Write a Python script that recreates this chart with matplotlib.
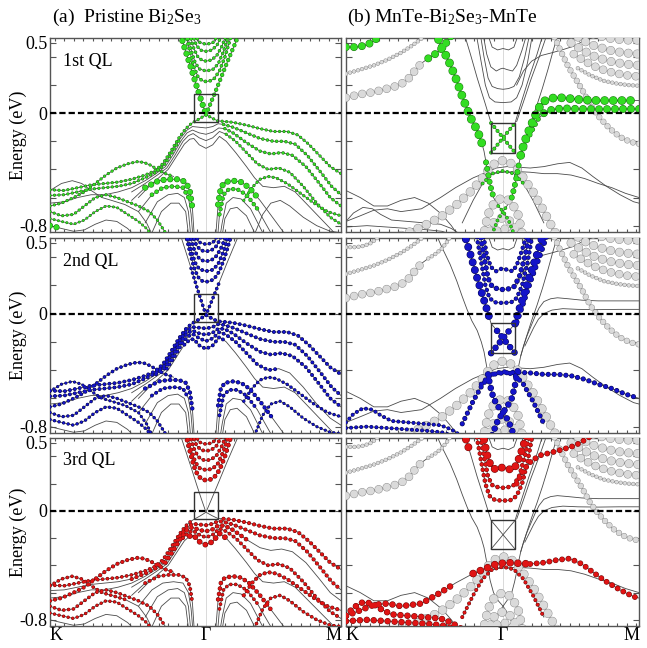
import matplotlib.pyplot as plt
from matplotlib.patches import Rectangle
from matplotlib.ticker import MultipleLocator

plt.rcParams['font.family'] = 'serif'
plt.rcParams['font.serif'] = ['Liberation Serif']
plt.rcParams['mathtext.fontset'] = 'custom'
plt.rcParams['mathtext.rm'] = 'Liberation Serif'
plt.rcParams['mathtext.it'] = 'Liberation Serif:italic'
plt.rcParams['lines.scale_dashes'] = False

# k-path: K -> Gamma -> M (|GK| / |GM| = 2/sqrt(3))
K_PT, M_PT = -1.1547, 1.0
YMIN, YMAX = -0.845, 0.535

# ---------------- (a) pristine Bi2Se3 : bands (k, E) ----------------
L_C0 = [(-0.19, 0.56), (-0.15, 0.44), (-0.11, 0.32), (-0.07, 0.195), (-0.035, 0.09), (0.0, -0.01),
        (0.03, 0.06), (0.06, 0.13), (0.10, 0.225), (0.15, 0.345), (0.20, 0.46), (0.245, 0.56)]
L_C1 = [(-0.15, 0.56), (-0.12, 0.44), (-0.09, 0.33), (-0.06, 0.26), (-0.03, 0.232), (0.0, 0.225),
        (0.03, 0.23), (0.06, 0.245), (0.10, 0.30), (0.14, 0.40), (0.19, 0.56)]
L_C2 = [(-0.14, 0.56), (-0.11, 0.45), (-0.08, 0.36), (-0.05, 0.315), (0.0, 0.30), (0.05, 0.31),
        (0.09, 0.35), (0.13, 0.44), (0.17, 0.56)]
L_C3 = [(-0.12, 0.56), (-0.09, 0.46), (-0.06, 0.40), (-0.03, 0.377), (0.0, 0.37), (0.04, 0.378),
        (0.08, 0.41), (0.12, 0.48), (0.15, 0.56)]
L_C4 = [(-0.10, 0.56), (-0.07, 0.48), (-0.035, 0.447), (0.0, 0.44), (0.04, 0.448), (0.08, 0.48),
        (0.12, 0.56)]
L_C5 = [(-0.08, 0.56), (-0.05, 0.505), (0.0, 0.49), (0.05, 0.50), (0.09, 0.56)]
L_V0 = [(-1.155, -0.545), (-1.05, -0.55), (-0.95, -0.53), (-0.85, -0.51), (-0.75, -0.50), (-0.65, -0.49),
        (-0.55, -0.47), (-0.45, -0.44), (-0.38, -0.41), (-0.32, -0.36), (-0.26, -0.27), (-0.20, -0.175),
        (-0.15, -0.11), (-0.11, -0.075), (-0.085, -0.06), (-0.04, -0.035), (0.0, -0.01), (0.045, -0.035),
        (0.087, -0.055), (0.13, -0.058), (0.20, -0.065), (0.30, -0.085), (0.40, -0.11), (0.50, -0.13),
        (0.60, -0.13), (0.68, -0.155), (0.76, -0.22), (0.84, -0.30), (0.92, -0.38), (1.0, -0.43)]
L_V1 = [(-1.155, -0.585), (-1.05, -0.58), (-0.95, -0.56), (-0.85, -0.54), (-0.75, -0.53), (-0.65, -0.52),
        (-0.55, -0.50), (-0.45, -0.46), (-0.37, -0.42), (-0.31, -0.37), (-0.25, -0.28), (-0.19, -0.18),
        (-0.14, -0.12), (-0.10, -0.095), (-0.05, -0.10), (0.0, -0.105), (0.05, -0.095), (0.09, -0.075),
        (0.13, -0.08), (0.20, -0.10), (0.30, -0.14), (0.40, -0.18), (0.50, -0.20), (0.58, -0.20),
        (0.66, -0.22), (0.75, -0.30), (0.85, -0.42), (0.93, -0.52), (1.0, -0.58)]
L_V2 = [(-1.155, -0.64), (-1.05, -0.63), (-0.95, -0.60), (-0.85, -0.58), (-0.75, -0.58), (-0.65, -0.56),
        (-0.55, -0.53), (-0.45, -0.48), (-0.37, -0.43), (-0.30, -0.38), (-0.24, -0.29), (-0.18, -0.19),
        (-0.14, -0.14), (-0.10, -0.12), (-0.05, -0.14), (0.0, -0.15), (0.05, -0.135), (0.095, -0.105),
        (0.14, -0.11), (0.20, -0.14), (0.30, -0.21), (0.40, -0.27), (0.48, -0.29), (0.56, -0.28),
        (0.64, -0.30), (0.74, -0.38), (0.84, -0.50), (0.92, -0.60), (1.0, -0.66)]
L_V3 = [(-0.55, -0.56), (-0.45, -0.50), (-0.36, -0.44), (-0.29, -0.39), (-0.23, -0.30), (-0.17, -0.20),
        (-0.13, -0.16), (-0.095, -0.145), (-0.05, -0.175), (0.0, -0.195), (0.05, -0.175), (0.10, -0.13),
        (0.15, -0.15), (0.22, -0.20), (0.30, -0.28), (0.38, -0.36), (0.46, -0.40), (0.54, -0.39),
        (0.62, -0.42), (0.72, -0.52), (0.82, -0.64), (0.92, -0.74), (1.0, -0.79)]
L_V4 = [(-0.50, -0.60), (-0.42, -0.52), (-0.35, -0.46), (-0.28, -0.40), (-0.22, -0.31), (-0.16, -0.22),
        (-0.12, -0.185), (-0.09, -0.18), (-0.05, -0.225), (0.0, -0.25), (0.05, -0.225), (0.10, -0.165),
        (0.15, -0.20), (0.22, -0.28), (0.30, -0.38), (0.36, -0.46), (0.42, -0.52), (0.50, -0.53),
        (0.58, -0.52), (0.66, -0.56), (0.76, -0.66), (0.86, -0.76), (0.95, -0.85)]
L_K1 = [(-1.155, -0.66), (-1.07, -0.64), (-0.98, -0.60), (-0.90, -0.56), (-0.82, -0.50), (-0.74, -0.44),
        (-0.66, -0.39), (-0.58, -0.36), (-0.51, -0.345), (-0.46, -0.35), (-0.41, -0.37), (-0.36, -0.40),
        (-0.30, -0.43), (-0.24, -0.45)]
L_K2 = [(-1.155, -0.70), (-1.07, -0.73), (-0.98, -0.72), (-0.90, -0.66), (-0.82, -0.60), (-0.74, -0.58),
        (-0.66, -0.60), (-0.58, -0.63), (-0.50, -0.66), (-0.42, -0.70), (-0.36, -0.76), (-0.30, -0.85)]
L_K3 = [(-1.155, -0.75), (-1.07, -0.77), (-0.98, -0.79), (-0.90, -0.76), (-0.82, -0.70), (-0.74, -0.66),
        (-0.66, -0.67), (-0.58, -0.72), (-0.50, -0.77), (-0.44, -0.82), (-0.40, -0.87)]
L_K4 = [(-1.155, -0.80), (-1.07, -0.82), (-0.98, -0.84), (-0.90, -0.83), (-0.82, -0.79), (-0.74, -0.76),
        (-0.66, -0.77), (-0.58, -0.82), (-0.54, -0.86)]
L_K5 = [(-1.155, -0.55), (-1.07, -0.50), (-0.99, -0.48), (-0.92, -0.50), (-0.85, -0.55), (-0.77, -0.60),
        (-0.70, -0.62), (-0.60, -0.65), (-0.50, -0.70), (-0.44, -0.78), (-0.40, -0.86)]
L_AL1 = [(-0.55, -0.62), (-0.45, -0.53), (-0.35, -0.48), (-0.28, -0.47), (-0.20, -0.47), (-0.15, -0.49),
         (-0.12, -0.55), (-0.10, -0.68), (-0.085, -0.90)]
L_AL2 = [(-0.50, -0.70), (-0.40, -0.58), (-0.32, -0.53), (-0.24, -0.52), (-0.17, -0.53), (-0.13, -0.60),
         (-0.11, -0.72), (-0.095, -0.90)]
L_AL3 = [(-0.45, -0.78), (-0.36, -0.63), (-0.28, -0.58), (-0.21, -0.57), (-0.16, -0.60), (-0.13, -0.70),
         (-0.11, -0.90)]
L_AL4 = [(-0.40, -0.85), (-0.33, -0.70), (-0.26, -0.64), (-0.20, -0.64), (-0.15, -0.70), (-0.125, -0.90)]
L_AR1 = [(0.07, -0.90), (0.09, -0.65), (0.11, -0.53), (0.14, -0.49), (0.20, -0.48), (0.26, -0.49),
         (0.32, -0.53), (0.40, -0.62), (0.50, -0.75), (0.60, -0.88)]
L_AR2 = [(0.085, -0.90), (0.10, -0.72), (0.13, -0.58), (0.17, -0.54), (0.23, -0.54), (0.30, -0.58),
         (0.38, -0.68), (0.48, -0.85)]
L_AR3 = [(0.10, -0.90), (0.12, -0.78), (0.15, -0.64), (0.20, -0.60), (0.26, -0.61), (0.33, -0.68),
         (0.42, -0.85)]
L_AR4 = [(0.115, -0.90), (0.14, -0.75), (0.18, -0.68), (0.23, -0.67), (0.30, -0.73), (0.36, -0.85)]
L_M5 = [(0.28, -0.62), (0.34, -0.53), (0.40, -0.47), (0.46, -0.45), (0.52, -0.46), (0.60, -0.50),
        (0.70, -0.57), (0.80, -0.64), (0.90, -0.70), (1.0, -0.73)]
L_M6 = [(0.36, -0.86), (0.42, -0.72), (0.48, -0.64), (0.55, -0.62), (0.62, -0.66), (0.72, -0.74),
        (0.82, -0.80), (0.92, -0.84), (1.0, -0.85)]

# projected weights per quintuple layer: (band, k_from, k_to, dot size)
HL_L1 = [('C0', -0.3, 0.0, 4.6), ('C0', 0.0, 0.3, 3.0), ('C1', -1, 1, 2.4), ('C2', -1, 1, 2.2),
         ('C3', -1, 1, 2.2), ('C4', -1, 1, 2.2), ('C5', -1, 1, 2.2), ('V0', -1.2, 1.1, 2.0),
         ('V1', -1.2, -0.15, 2.0), ('V1', 0.13, 1.1, 2.2), ('V2', 0.14, 1.1, 2.2), ('V3', 0.15, 1.1, 2.0),
         ('K1', -1.2, 0, 2.0), ('K2', -1.2, 0, 2.0), ('K3', -1.2, 0, 1.8), ('AL1', -0.45, -0.1, 4.6),
         ('AL2', -0.4, -0.12, 3.2), ('AR1', 0.09, 0.4, 4.6), ('AR2', 0.1, 0.38, 3.0),
         ('K4', -1.2, -1.0, 4.6), ('M5', 0, 1.1, 2.0)]
HL_L2 = [('C0', -0.12, 0.12, 2.4), ('C1', -1, 1, 2.6), ('C2', -1, 1, 2.6), ('C3', -1, 1, 2.6),
         ('C4', -1, 1, 2.6), ('C5', -1, 1, 2.4), ('V0', -1.2, 1.1, 2.6), ('V1', -1.2, 1.1, 2.6),
         ('V2', -0.4, 1.1, 2.6), ('V3', -0.3, 0.6, 2.6), ('V4', -0.2, 0.2, 2.6), ('K1', -1.2, 0, 2.4),
         ('K2', -1.2, 0, 2.2), ('K3', -1.2, 0, 2.2), ('K5', -1.2, 0, 2.0), ('AL1', -0.5, -0.1, 3.0),
         ('AL2', -0.4, -0.12, 2.6), ('AR1', 0.09, 0.5, 3.0), ('AR2', 0.1, 0.45, 2.6), ('M5', 0, 1.1, 2.2),
         ('M6', 0, 1.1, 2.0)]
HL_L3 = [('C1', -1, 1, 3.4), ('C2', -1, 1, 2.8), ('C3', -1, 1, 2.6), ('C4', -1, 1, 2.6),
         ('C5', -1, 1, 2.4), ('V0', -1.2, -0.1, 2.4), ('V0', 0.09, 1.1, 2.8), ('V1', -0.6, 1.1, 2.8),
         ('V2', -0.3, 0.3, 3.2), ('V3', -0.2, 1.1, 2.6), ('V4', -0.15, 0.15, 4.2), ('K1', -1.2, 0, 2.8),
         ('K2', -1.2, 0, 2.4), ('K3', -1.2, 0, 2.2), ('K5', -1.2, -0.6, 2.4), ('AL1', -0.5, -0.1, 2.6),
         ('AR1', 0.09, 0.5, 3.2), ('AR2', 0.1, 0.45, 2.4), ('M5', 0, 1.1, 2.8), ('M6', 0, 1.1, 2.4)]

# ---------------- (b) MnTe-Bi2Se3-MnTe : bands (k, E) ----------------
R_U1 = [(-0.50, 0.58), (-0.45, 0.47), (-0.39, 0.35), (-0.34, 0.23), (-0.30, 0.12), (-0.265, 0.03),
        (-0.23, -0.05), (-0.19, -0.12), (-0.16, -0.20), (-0.14, -0.27), (-0.125, -0.35), (-0.11, -0.43),
        (-0.095, -0.51), (-0.07, -0.60), (-0.035, -0.66), (0.0, -0.70), (0.04, -0.76), (0.08, -0.86)]
R_U2 = [(-0.08, -0.86), (-0.04, -0.76), (0.0, -0.70), (0.035, -0.65), (0.064, -0.60), (0.085, -0.52),
        (0.10, -0.45), (0.115, -0.37), (0.13, -0.30), (0.15, -0.23), (0.175, -0.16), (0.205, -0.09),
        (0.235, -0.02), (0.265, 0.04), (0.30, 0.085), (0.35, 0.105), (0.40, 0.112), (0.48, 0.105),
        (0.58, 0.095), (0.70, 0.09), (0.85, 0.09), (1.0, 0.09)]
R_U3 = [(0.16, -0.23), (0.19, -0.17), (0.225, -0.10), (0.26, -0.04), (0.30, 0.0), (0.36, 0.025),
        (0.44, 0.035), (0.55, 0.03), (0.70, 0.028), (0.85, 0.03), (1.0, 0.03)]
R_U4 = [(0.13, -0.30), (0.17, -0.17), (0.21, -0.05), (0.25, 0.06), (0.29, 0.18), (0.33, 0.31),
        (0.37, 0.45), (0.41, 0.58)]
R_V1 = [(-0.29, 0.58), (-0.24, 0.42), (-0.19, 0.25), (-0.135, 0.08), (-0.088, -0.07), (-0.044, -0.122),
        (0.0, -0.175), (0.044, -0.228), (0.088, -0.28)]
R_V2 = [(-0.088, -0.28), (-0.044, -0.228), (0.0, -0.175), (0.044, -0.122), (0.088, -0.07), (0.135, 0.08),
        (0.19, 0.25), (0.25, 0.42), (0.30, 0.58)]
R_V3 = [(0.10, -0.06), (0.15, 0.08), (0.205, 0.24), (0.27, 0.41), (0.33, 0.58)]
R_C1 = [(-0.20, 0.58), (-0.16, 0.36), (-0.13, 0.20), (-0.10, 0.11), (-0.06, 0.08), (0.0, 0.075),
        (0.06, 0.08), (0.10, 0.11), (0.14, 0.20), (0.18, 0.36), (0.22, 0.58)]
R_C2 = [(-0.17, 0.58), (-0.14, 0.40), (-0.11, 0.25), (-0.08, 0.19), (-0.04, 0.175), (0.0, 0.17),
        (0.04, 0.175), (0.08, 0.19), (0.12, 0.26), (0.16, 0.40), (0.20, 0.58)]
R_C3 = [(-0.15, 0.58), (-0.12, 0.42), (-0.09, 0.33), (-0.05, 0.30), (-0.02, 0.315), (0.0, 0.32),
        (0.03, 0.31), (0.07, 0.30), (0.10, 0.34), (0.14, 0.45), (0.18, 0.58)]
R_C4 = [(-0.12, 0.58), (-0.08, 0.47), (-0.04, 0.45), (0.0, 0.46), (0.04, 0.45), (0.08, 0.47), (0.12, 0.58)]
R_R1 = [(0.10, 0.20), (0.15, 0.30), (0.21, 0.37), (0.28, 0.41), (0.36, 0.43), (0.45, 0.455), (0.53, 0.48),
        (0.60, 0.52), (0.66, 0.56)]
R_G1 = [(-1.155, 0.11), (-1.05, 0.135), (-0.95, 0.15), (-0.85, 0.175), (-0.76, 0.20), (-0.70, 0.24),
        (-0.65, 0.30), (-0.60, 0.355), (-0.55, 0.39), (-0.50, 0.42), (-0.45, 0.46), (-0.41, 0.51), (-0.37, 0.57)]
R_G2 = [(-1.155, 0.28), (-1.05, 0.31), (-0.95, 0.34), (-0.85, 0.38), (-0.75, 0.43), (-0.67, 0.48),
        (-0.60, 0.53), (-0.55, 0.57)]
R_GT = [(-1.155, 0.47), (-1.08, 0.47), (-1.02, 0.48), (-0.97, 0.50), (-0.93, 0.53), (-0.90, 0.57)]
R_GM1 = [(0.36, 0.58), (0.42, 0.45), (0.48, 0.33), (0.53, 0.25), (0.58, 0.17), (0.64, 0.06), (0.70, -0.02),
         (0.76, -0.085), (0.82, -0.14), (0.88, -0.18), (0.94, -0.205), (1.0, -0.218)]
R_GM2 = [(0.60, 0.58), (0.70, 0.55), (0.80, 0.53), (0.90, 0.52), (1.0, 0.52)]
R_GM3 = [(0.50, 0.58), (0.58, 0.52), (0.67, 0.48), (0.77, 0.45), (0.88, 0.43), (1.0, 0.42)]
R_GM4 = [(0.50, 0.50), (0.58, 0.45), (0.68, 0.40), (0.78, 0.37), (0.89, 0.35), (1.0, 0.34)]
R_GM5 = [(0.52, 0.42), (0.60, 0.37), (0.70, 0.32), (0.80, 0.29), (0.90, 0.27), (1.0, 0.26)]
R_GM6 = [(0.55, 0.32), (0.64, 0.27), (0.74, 0.23), (0.84, 0.21), (0.92, 0.20), (1.0, 0.195)]
R_GA = [(-0.75, -0.87), (-0.60, -0.81), (-0.46, -0.74), (-0.34, -0.65), (-0.23, -0.55), (-0.15, -0.46),
        (-0.09, -0.38), (-0.04, -0.345), (0.0, -0.337), (0.04, -0.345), (0.09, -0.38), (0.15, -0.46),
        (0.22, -0.56), (0.29, -0.68), (0.35, -0.79), (0.40, -0.88)]
R_GB1 = [(-0.15, -0.90), (-0.11, -0.72), (-0.06, -0.63), (0.0, -0.60), (0.06, -0.63), (0.11, -0.72), (0.15, -0.90)]
R_GB2 = [(-0.12, -0.90), (-0.07, -0.78), (0.0, -0.74), (0.07, -0.78), (0.12, -0.90)]
R_GB3 = [(-0.09, -0.88), (-0.04, -0.83), (0.0, -0.82), (0.04, -0.83), (0.09, -0.88)]
R_A1 = [(-0.16, -0.50), (-0.10, -0.44), (-0.05, -0.425), (0.0, -0.42), (0.10, -0.415), (0.20, -0.42),
        (0.30, -0.43), (0.40, -0.43), (0.50, -0.44), (0.60, -0.465), (0.70, -0.50), (0.80, -0.53),
        (0.90, -0.57), (1.0, -0.60)]
R_A2 = [(-1.155, -0.77), (-1.05, -0.73), (-0.95, -0.69), (-0.85, -0.68), (-0.75, -0.70), (-0.60, -0.68),
        (-0.46, -0.60), (-0.35, -0.53), (-0.22, -0.46), (-0.12, -0.42), (-0.05, -0.39), (0.03, -0.38),
        (0.12, -0.385), (0.20, -0.39), (0.30, -0.38), (0.40, -0.36), (0.49, -0.35), (0.58, -0.39),
        (0.66, -0.45), (0.76, -0.52), (0.86, -0.58), (0.96, -0.63), (1.0, -0.64)]
R_A3 = [(-1.155, -0.77), (-1.10, -0.71), (-1.03, -0.67), (-0.96, -0.68), (-0.90, -0.72), (-0.82, -0.76),
        (-0.70, -0.77), (-0.58, -0.78), (-0.46, -0.79), (-0.38, -0.82), (-0.30, -0.87)]
R_A4 = [(-1.155, -0.81), (-1.0, -0.80), (-0.85, -0.81), (-0.70, -0.82), (-0.55, -0.83), (-0.45, -0.84),
        (-0.35, -0.87)]
R_T1 = [(-1.155, -0.55), (-1.05, -0.60), (-0.95, -0.66), (-0.85, -0.66), (-0.75, -0.62), (-0.65, -0.60),
        (-0.55, -0.64), (-0.45, -0.72), (-0.38, -0.80), (-0.33, -0.87)]
R_T2 = [(-0.30, -0.78), (-0.22, -0.62), (-0.15, -0.50), (-0.08, -0.43), (0.0, -0.41), (0.08, -0.43),
        (0.15, -0.50), (0.22, -0.62), (0.30, -0.78)]

HL_R_GRAY = [('G1', -1.2, -0.56, 5.4), ('G2', -1.2, 0, 2.4), ('GM1', 0, 1.1, 3.8), ('GM2', 0, 1.1, 5.8),
             ('GM3', 0, 1.1, 5.8), ('GM4', 0, 1.1, 5.8), ('GM5', 0, 1.1, 5.4), ('GM6', 0, 1.1, 2.4),
             ('GA', -1, 1, 6.0), ('GB1', -1, 1, 6.0), ('GB2', -1, 1, 6.0), ('GB3', -1, 1, 5.6)]
HL_R_GRAY_LOW = [('GT', -1.2, 0, 2.4), ('G1', -0.55, 0, 2.4)]
HL_R1 = [('GT', -1.2, 0, 5.0), ('G1', -0.55, 0, 5.0), ('U1', -0.6, -0.14, 5.6), ('U1', -0.13, -0.06, 3.6),
         ('U1', -0.04, 0.1, 2.0), ('U2', -0.1, 0.04, 2.0), ('U2', 0.05, 0.12, 3.6), ('U2', 0.13, 1.1, 5.6),
         ('U3', 0.15, 0.29, 3.0), ('U3', 0.3, 1.1, 5.0), ('V1', -0.09, 0.09, 2.2), ('V2', -0.09, 0.09, 2.2),
         ('T2', -0.2, 0.2, 2.0)]
HL_R2 = [('V1', -0.3, -0.08, 5.0), ('V1', -0.05, 0.09, 4.0), ('V2', -0.09, 0.05, 4.0), ('V2', 0.08, 0.31, 5.0),
         ('V3', 0, 0.4, 3.5), ('C1', -1, 1, 2.5), ('C2', -1, 1, 3.2), ('C3', -1, 1, 2.5), ('A1', -1, 1.1, 3.0),
         ('U1', -0.12, 0.1, 4.0), ('U2', -0.1, 0.12, 4.0), ('A3', -1.2, 0, 2.2), ('A4', -1.2, 0, 2.2),
         ('T2', -0.3, 0.3, 3.0)]
HL_R3 = [('C3', -1, 1, 5.0), ('C2', -1, 1, 2.6), ('C1', -1, 1, 2.6), ('V1', -0.3, -0.2, 5.0),
         ('R1', 0, 1, 3.5), ('A2', -1.2, -0.25, 4.0), ('A2', -0.24, 0.2, 4.8), ('A2', 0.2, 1.1, 3.5),
         ('A3', -1.2, 0, 4.0), ('A4', -1.2, 0, 4.0), ('T2', -0.3, 0.3, 2.2)]

LEFT = {'C0': L_C0, 'C1': L_C1, 'C2': L_C2, 'C3': L_C3, 'C4': L_C4, 'C5': L_C5,
        'V0': L_V0, 'V1': L_V1, 'V2': L_V2, 'V3': L_V3, 'V4': L_V4,
        'K1': L_K1, 'K2': L_K2, 'K3': L_K3, 'K4': L_K4, 'K5': L_K5,
        'AL1': L_AL1, 'AL2': L_AL2, 'AL3': L_AL3, 'AL4': L_AL4,
        'AR1': L_AR1, 'AR2': L_AR2, 'AR3': L_AR3, 'AR4': L_AR4, 'M5': L_M5, 'M6': L_M6}
RIGHT = {'U1': R_U1, 'U2': R_U2, 'U3': R_U3, 'U4': R_U4, 'V1': R_V1, 'V2': R_V2, 'V3': R_V3,
         'C1': R_C1, 'C2': R_C2, 'C3': R_C3, 'C4': R_C4, 'R1': R_R1,
         'G1': R_G1, 'G2': R_G2, 'GT': R_GT, 'GM1': R_GM1, 'GM2': R_GM2, 'GM3': R_GM3, 'GM4': R_GM4,
         'GM5': R_GM5, 'GM6': R_GM6, 'GA': R_GA, 'GB1': R_GB1, 'GB2': R_GB2, 'GB3': R_GB3,
         'A1': R_A1, 'A2': R_A2, 'A3': R_A3, 'A4': R_A4, 'T1': R_T1, 'T2': R_T2}

QL_LABELS = ['1st QL', '2nd QL', '3rd QL']
KLABELS = ['K', 'Γ', 'M']

COLORS = {'g': ('#33dd22', '#1d6e14'), 'b': ('#1414c8', '#05054a'),
          'r': ('#e01414', '#6a0808'), 'gray': ('#dadada', '#8f8f8f')}
LINE_C = '#4a4a4a'


def draw_lines(ax, bands):
    for pts in bands.values():
        k, e = zip(*pts)
        ax.plot(k, e, color=LINE_C, lw=0.6, zorder=2)


def draw_dots(ax, bands, marks, col, z, gray=False, scale=1.0):
    face, edge = COLORS[col]
    for name, k0, k1, size in marks:
        sel = [p for p in bands[name] if k0 <= p[0] <= k1]
        if len(sel) < 2:
            continue
        k, e = zip(*sel)
        size = size * scale
        step = size + 0.6 if gray else 2.0 + 0.75 * size
        pat = (0, (0.01, step))
        ax.plot(k, e, ls=pat, lw=size + 0.7, color=edge, dash_capstyle='round', zorder=z)
        ax.plot(k, e, ls=pat, lw=size, color=face, dash_capstyle='round', zorder=z + 0.1)


def frame(ax, row, col):
    ax.set_xlim(K_PT, M_PT)
    ax.set_ylim(YMIN, YMAX)
    ax.axvline(0, color='#d9d9d9', lw=0.7, zorder=1)
    ax.axhline(0, color='k', lw=1.6, ls=(0, (4.5, 2.2)), zorder=8)
    for s in ax.spines.values():
        s.set_color('#555555')
        s.set_linewidth(1.0)
    ax.set_yticks([-0.8, -0.6, -0.4, -0.2, 0, 0.2, 0.4, 0.5])
    ax.set_xticks([K_PT, 0, M_PT])
    ax.xaxis.set_minor_locator(MultipleLocator(0.07))
    ax.tick_params(which='both', direction='in', top=True, right=True, color='#555555', width=0.8)
    ax.tick_params(which='major', length=4)
    ax.tick_params(axis='x', which='major', length=0)
    ax.tick_params(which='minor', length=2.5)
    if col == 0:
        ax.set_yticklabels(['-0.8', '', '', '', '0', '', '', '0.5'], fontsize=13)
        ax.tick_params(axis='y', pad=2)
        ax.set_ylabel('Energy (eV)', fontsize=13)
        ax.yaxis.set_label_coords(-0.08, 0.5)
        ax.text(0.045, 0.88, QL_LABELS[row], transform=ax.transAxes, fontsize=13, va='center')
    else:
        ax.set_yticklabels([])
    if row == 2:
        ax.set_xticklabels(KLABELS, fontsize=13)
        lab = ax.get_xticklabels()
        lab[0].set_ha('left')
        lab[2].set_ha('right')
        ax.tick_params(axis='x', pad=1)
    else:
        ax.set_xticklabels([])


fig = plt.figure(figsize=(6.47, 6.48), dpi=100)
rows = [(0.6420, 0.2994), (0.3318, 0.3009), (0.0340, 0.2900)]
cols = [(0.0773, 0.4498), (0.5348, 0.4529)]
left_hl = [(HL_L1, 'g'), (HL_L2, 'b'), (HL_L3, 'r')]
right_hl = [(HL_R1, 'g'), (HL_R2, 'b'), (HL_R3, 'r')]

for r, (y0, h) in enumerate(rows):
    # (a) column
    ax = fig.add_axes([cols[0][0], y0, cols[0][1], h])
    frame(ax, r, 0)
    draw_lines(ax, LEFT)
    draw_dots(ax, LEFT, left_hl[r][0], left_hl[r][1], 4, scale=0.82)
    ax.add_patch(Rectangle((-0.087, -0.06), 0.174, 0.2, fill=False, ec='#333333', lw=1.0, zorder=9))

    # (b) column
    ax = fig.add_axes([cols[1][0], y0, cols[1][1], h])
    frame(ax, r, 1)
    draw_lines(ax, RIGHT)
    draw_dots(ax, RIGHT, HL_R_GRAY, 'gray', 3, gray=True)
    if r > 0:
        draw_dots(ax, RIGHT, HL_R_GRAY_LOW, 'gray', 3, gray=True)
    draw_dots(ax, RIGHT, right_hl[r][0], right_hl[r][1], 4)
    ax.add_patch(Rectangle((-0.088, -0.28), 0.176, 0.21, fill=False, ec='#333333', lw=1.0, zorder=9))

fig.text(52 / 647, 1 - 17 / 648, '(a)  Pristine Bi$_2$Se$_3$', fontsize=14, va='center', ha='left')
fig.text(347 / 647, 1 - 17 / 648, '(b) MnTe-Bi$_2$Se$_3$-MnTe', fontsize=14, va='center', ha='left')

fig.savefig('out.png', dpi=100)
